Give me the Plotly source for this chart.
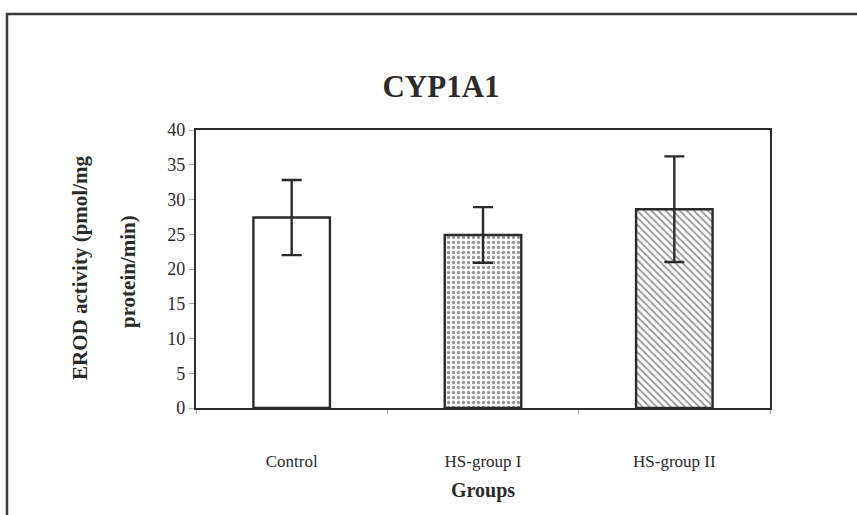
import plotly.graph_objects as go

categories = ["Control", "HS-group I", "HS-group II"]
means = [27.4, 24.9, 28.6]
errors = [5.4, 4.0, 7.6]
patterns = ["", ".", "\\"]
y_ticks = [0, 5, 10, 15, 20, 25, 30, 35, 40]

SERIF = "Liberation Serif"
INK = "#2b2b2b"

fig = go.Figure()
fig.add_trace(go.Bar(
    x=categories, y=means,
    marker=dict(
        color="white",
        line=dict(color=INK, width=2.4),
        pattern=dict(shape=patterns, fgcolor="#2e2e2e", bgcolor="white",
                     size=5, solidity=0.35),
    ),
    error_y=dict(type="data", array=errors, visible=True,
                 color=INK, thickness=2.4, width=10),
    width=0.4,
    showlegend=False,
))

L, R, T, B = 196, 87, 130, 107
W, H = 857, 515
pw, ph = W - L - R, H - T - B

def px(x):
    return (x - L) / pw

def py(y):
    return (H - B - y) / ph

fig.update_layout(
    width=W, height=H,
    margin=dict(l=L, r=R, t=T, b=B),
    paper_bgcolor="white", plot_bgcolor="white",
    font=dict(family=SERIF, color=INK, size=17),
    title=dict(text="<b>CYP1A1</b>", x=px(441), xref="paper", xanchor="center",
               y=1 - 86 / H, yanchor="middle",
               font=dict(size=31, family=SERIF, color=INK)),
    bargap=0.6,
)
fig.update_xaxes(
    showline=True, linecolor=INK, linewidth=2.2, mirror=True,
    ticks="outside", tickson="boundaries", ticklen=4, tickcolor="#aaaaaa",
    tickfont=dict(size=17, family=SERIF), showgrid=False,
    ticklabelstandoff=36,
)
fig.update_yaxes(
    range=[0, 40], tickvals=y_ticks,
    showline=True, linecolor=INK, linewidth=2.2, mirror=True,
    ticks="outside", ticklen=5, tickcolor="#aaaaaa",
    tickfont=dict(size=18, family=SERIF), showgrid=False, zeroline=False,
)

fig.add_annotation(text="<b>Groups</b>", xref="paper", yref="paper",
                   x=px(483), y=py(490), xanchor="center", yanchor="middle",
                   showarrow=False, borderpad=0,
                   font=dict(size=20, family=SERIF, color=INK))
fig.add_annotation(text="<b>EROD activity (pmol/mg</b>", textangle=-90,
                   xref="paper", yref="paper", x=px(80), y=py(268),
                   xanchor="center", yanchor="middle",
                   showarrow=False, font=dict(size=21, family=SERIF, color=INK))
fig.add_annotation(text="<b>protein/min)</b>", textangle=-90,
                   xref="paper", yref="paper", x=px(128), y=py(272),
                   xanchor="center", yanchor="middle",
                   showarrow=False, font=dict(size=21, family=SERIF, color=INK))

fig.add_shape(type="rect", xref="paper", yref="paper",
              x0=px(7), x1=px(880), y0=py(540), y1=py(14),
              line=dict(color="#3a3a3a", width=2.5), layer="below")

fig.write_html("out.html")
